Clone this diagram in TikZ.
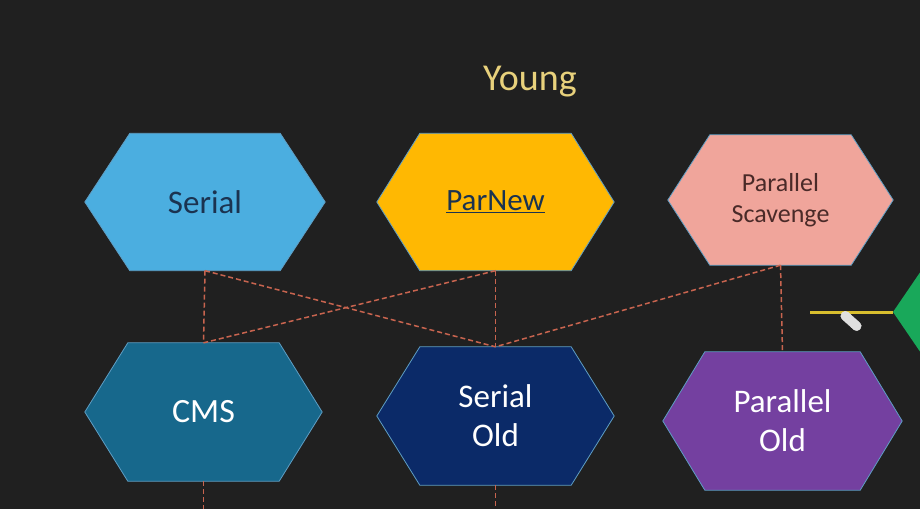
\documentclass[tikz,border=0pt]{standalone}
\usepackage{fontspec}
\setmainfont{Carlito}
\usetikzlibrary{backgrounds,calc}
\definecolor{bgc}{HTML}{202020}
\definecolor{serialc}{HTML}{4BAEE0}
\definecolor{parnewc}{HTML}{FFB802}
\definecolor{pscavc}{HTML}{F0A59B}
\definecolor{cmsc}{HTML}{17688C}
\definecolor{soldc}{HTML}{0B2A68}
\definecolor{poldc}{HTML}{7440A0}
\definecolor{edgec}{HTML}{5E9EC4}
\definecolor{dashc}{HTML}{C8644F}
\definecolor{youngc}{HTML}{E8D17C}
\definecolor{darktxt}{HTML}{1B3350}
\definecolor{browntxt}{HTML}{4A2A28}
\definecolor{greenc}{HTML}{19A85A}
\definecolor{yellowc}{HTML}{D8BE2E}
\tikzset{
  hexbox/.style={inner sep=0pt, align=center},
  conn/.style={draw=dashc, line width=1.5pt, dash pattern=on 5pt off 3pt},
  hexedge/.style={draw=edgec, line width=0.8pt}
}
\newcommand\hexfill[3]{\fill[#3, hexedge] (#1.west) -- ([xshift=#2pt]#1.north west) -- ([xshift=-#2pt]#1.north east) -- (#1.east) -- ([xshift=-#2pt]#1.south east) -- ([xshift=#2pt]#1.south west) -- cycle;}
\begin{document}
\begin{tikzpicture}[x=1pt, y=-1pt]
\useasboundingbox (0,0) rectangle (920,509);
\clip (0,0) rectangle (920,509);
% title
\node[text=youngc, font=\fontsize{38}{44}\selectfont] (young) at (530,82) {Young};
% nodes
\node[hexbox, minimum width=240pt, minimum height=137pt, text=darktxt, font=\fontsize{33}{39}\selectfont] (serial) at (205,202) {Serial};
\node[hexbox, minimum width=237pt, minimum height=137pt, text=darktxt, font=\fontsize{31}{37}\selectfont] (parnew) at (495.5,202) {\underline{ParNew}};
\node[hexbox, minimum width=225pt, minimum height=130pt, text=browntxt, font=\fontsize{26}{31}\selectfont] (pscav) at (780.5,200) {Parallel\\Scavenge};
\node[hexbox, minimum width=237pt, minimum height=138pt, text=white, font=\fontsize{34}{39}\selectfont] (cms) at (203.5,412) {CMS};
\node[hexbox, minimum width=237pt, minimum height=138pt, text=white, font=\fontsize{33}{39}\selectfont] (sold) at (495.5,416) {Serial\\Old};
\node[hexbox, minimum width=239pt, minimum height=138pt, text=white, font=\fontsize{33}{39}\selectfont] (pold) at (782.5,421) {Parallel\\Old};
% right edge partial shape
\coordinate (gtip) at (893,312);
\coordinate (ystart) at (810,312);
\node[draw=white!80!gray, fill=gray!25, rounded corners=4pt, minimum width=24pt, minimum height=9pt, inner sep=0pt, rotate=-42] (cursor) at (851,321) {};
\begin{scope}[on background layer]
\fill[bgc] (0,0) rectangle (920,509);
\hexfill{serial}{45}{serialc}
\hexfill{parnew}{43}{parnewc}
\hexfill{pscav}{42}{pscavc}
\hexfill{cms}{43}{cmsc}
\hexfill{sold}{43}{soldc}
\hexfill{pold}{42}{poldc}
\fill[greenc] (gtip) -- ++(30,-44) -- ++(40,0) -- ++(0,88) -- ++(-40,0) -- cycle;
\draw[yellowc, line width=3pt] (ystart) -- (gtip);
\end{scope}
% connectors
\coordinate (bot) at (0,509);
\draw[conn] (serial.south) -- (cms.north);
\draw[conn] (serial.south) -- (sold.north);
\draw[conn] (parnew.south) -- (cms.north);
\draw[conn] (parnew.south) -- (sold.north);
\draw[conn] (pscav.south) -- (sold.north);
\draw[conn] (pscav.south) -- (pold.north);
\draw[conn] (cms.south) -- (cms.south |- bot);
\draw[conn] (sold.south) -- (sold.south |- bot);
\end{tikzpicture}
\end{document}
